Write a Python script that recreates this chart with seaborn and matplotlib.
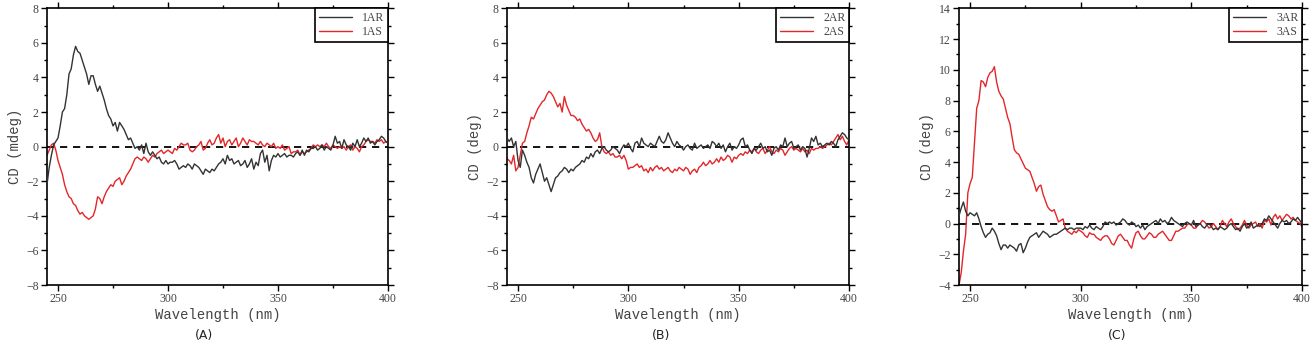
import numpy as np
import matplotlib
matplotlib.use("Agg")
import matplotlib.pyplot as plt
import seaborn as sns
from matplotlib.ticker import MultipleLocator

wavelength = list(range(245, 401))

cd_1AR = [
    -2.2, -1.2, -0.5, 0.1, 0.3, 0.5, 1.2, 2.0, 2.2, 3.0,
    4.2, 4.5, 5.3, 5.8, 5.5, 5.4, 5.0, 4.6, 4.2, 3.6,
    4.1, 4.1, 3.6, 3.2, 3.5, 3.1, 2.7, 2.2, 1.8, 1.6,
    1.2, 1.4, 0.9, 1.4, 1.2, 1.0, 0.7, 0.4, 0.5, 0.2,
    -0.1, 0.0, -0.2, 0.1, -0.4, 0.2, -0.3, -0.5, -0.3, -0.5,
    -0.7, -0.6, -0.9, -1.0, -0.8, -1.0, -0.9, -0.9, -0.8, -1.0,
    -1.3, -1.2, -1.1, -1.2, -1.0, -1.1, -1.3, -1.0, -1.1, -1.2,
    -1.4, -1.6, -1.3, -1.4, -1.5, -1.3, -1.4, -1.2, -1.0, -0.9,
    -0.7, -1.0, -0.5, -0.8, -0.7, -1.0, -0.9, -0.8, -1.1, -1.0,
    -0.8, -1.2, -1.0, -0.7, -1.3, -0.9, -1.1, -0.4, -0.2, -0.9,
    -0.5, -1.4, -0.8, -0.5, -0.6, -0.4, -0.6, -0.5, -0.4, -0.6,
    -0.5, -0.5, -0.6, -0.4, -0.3, -0.5, -0.2, -0.5, -0.2, -0.3,
    -0.1, -0.1, 0.0, -0.2, -0.1, 0.1, -0.2, 0.0, -0.1, -0.2,
    0.1, 0.6, 0.2, 0.3, -0.1, 0.4, 0.1, 0.0, -0.2, 0.2,
    0.0, 0.4, 0.0, 0.2, 0.5, 0.3, 0.5, 0.2, 0.3, 0.1,
    0.3, 0.4, 0.6, 0.5, 0.3, 0.2,
]
cd_1AS = [
    -0.5, -0.2, 0.1, 0.2, -0.2, -0.8, -1.2, -1.6, -2.2, -2.6,
    -2.9, -3.0, -3.3, -3.4, -3.7, -3.9, -3.8, -4.0, -4.1, -4.2,
    -4.1, -4.0, -3.6, -2.9, -3.0, -3.3, -2.9, -2.6, -2.4, -2.2,
    -2.3, -2.0, -1.9, -1.8, -2.2, -2.0, -1.7, -1.5, -1.3, -1.0,
    -0.7, -0.6, -0.7, -0.8, -0.6, -0.7, -0.9, -0.7, -0.5, -0.6,
    -0.4, -0.3, -0.2, -0.4, -0.3, -0.2, -0.3, -0.4, -0.1, -0.2,
    0.0, 0.2, 0.1, 0.1, 0.2, -0.2, -0.3, -0.2, 0.0, 0.1,
    0.3, -0.2, -0.1, 0.2, 0.4, 0.1, 0.2, 0.5, 0.7, 0.2,
    0.5, 0.0, 0.3, 0.4, 0.1, 0.3, 0.5, 0.0, 0.2, 0.5,
    0.3, 0.1, 0.4, 0.3, 0.3, 0.2, 0.1, 0.3, 0.1, 0.0,
    0.2, 0.1, 0.0, 0.2, -0.1, 0.0, -0.1, 0.1, -0.2, -0.1,
    0.0, -0.4, -0.3, -0.3, -0.2, -0.5, -0.3, -0.4, -0.3, -0.2,
    -0.1, 0.1, 0.0, 0.1, 0.0, 0.1, 0.0, 0.2, 0.0, -0.1,
    0.1, 0.0, -0.1, 0.0, -0.1, 0.0, -0.2, 0.0, 0.1, -0.2,
    0.0, -0.1, -0.3, 0.0, 0.1, 0.3, 0.4, 0.3, 0.3, 0.2,
    0.4, 0.3, 0.4, 0.2, 0.3, 0.2,
]
cd_2AR = [
    0.5, 0.3, 0.5, 0.0, 0.3, -0.8, -1.2, -0.2, -0.5, -0.9,
    -1.2, -1.8, -2.1, -1.6, -1.3, -1.0, -1.5, -2.0, -1.8, -2.2,
    -2.6, -2.2, -1.8, -1.7, -1.5, -1.4, -1.2, -1.3, -1.5, -1.3,
    -1.4, -1.2, -1.1, -1.0, -0.8, -0.9, -0.6, -0.7, -0.4, -0.6,
    -0.3, -0.2, -0.4, -0.1, 0.0, -0.2, -0.3, -0.2, 0.0, -0.1,
    -0.2, -0.4, -0.1, 0.1, 0.0, 0.2, -0.1, -0.3, 0.2, 0.3,
    0.0, 0.5, 0.2, 0.1, 0.0, 0.2, 0.1, 0.0, 0.3, 0.6,
    0.3, 0.2, 0.4, 0.8, 0.5, 0.2, 0.0, 0.3, 0.1, 0.0,
    -0.2, 0.0, 0.1, -0.1, -0.2, 0.2, -0.1, 0.0, 0.1, -0.1,
    0.0, 0.1, -0.1, 0.3, 0.2, 0.0, 0.2, -0.1, 0.1, -0.3,
    0.0, 0.2, -0.2, 0.0, -0.1, 0.1, 0.4, 0.5, 0.0, 0.1,
    -0.2, -0.4, -0.1, -0.2, 0.0, 0.2, -0.1, 0.0, -0.3, -0.2,
    -0.5, -0.1, 0.0, -0.2, 0.1, 0.0, 0.5, 0.0, 0.2, 0.3,
    -0.1, 0.0, 0.1, -0.2, 0.0, -0.1, -0.6, -0.1, 0.5, 0.3,
    0.6, 0.1, 0.2, 0.0, 0.1, 0.2, 0.1, 0.3, 0.2, 0.0,
    0.4, 0.6, 0.8, 0.7, 0.5, 0.4,
]
cd_2AS = [
    -0.7, -0.8, -1.0, -0.5, -1.4, -1.2, -0.5, 0.2, 0.3, 0.8,
    1.2, 1.7, 1.6, 1.9, 2.2, 2.4, 2.6, 2.7, 3.0, 3.2,
    3.1, 2.9, 2.6, 2.3, 2.5, 2.0, 2.9, 2.4, 2.1, 1.8,
    1.8, 1.7, 1.5, 1.6, 1.3, 1.1, 0.9, 1.0, 0.8, 0.5,
    0.3, 0.4, 0.8, 0.0, -0.3, -0.4, -0.3, -0.5, -0.4, -0.6,
    -0.6, -0.5, -0.7, -0.5, -0.8, -1.3, -1.2, -1.2, -1.1, -1.0,
    -1.2, -1.1, -1.4, -1.3, -1.5, -1.2, -1.4, -1.2, -1.1, -1.3,
    -1.2, -1.4, -1.3, -1.2, -1.4, -1.5, -1.3, -1.4, -1.2, -1.3,
    -1.4, -1.2, -1.3, -1.6, -1.4, -1.3, -1.5, -1.2, -1.1, -0.9,
    -1.1, -1.0, -0.8, -1.0, -0.9, -0.7, -0.9, -0.6, -0.8, -0.7,
    -0.5, -0.6, -0.9, -0.6, -0.7, -0.5, -0.4, -0.5, -0.3, -0.4,
    -0.2, -0.3, -0.1, -0.3, -0.4, -0.2, -0.1, -0.4, -0.2, 0.0,
    -0.3, -0.4, -0.2, -0.3, -0.1, -0.2, -0.5, -0.3, -0.1, 0.0,
    -0.2, -0.1, -0.2, -0.3, -0.1, -0.3, -0.2, -0.4, -0.1, -0.2,
    -0.1, -0.1, 0.0, -0.1, 0.0, 0.1, 0.2, 0.1, 0.3, 0.5,
    0.7, 0.4, 0.6, 0.3, 0.1, 0.4,
]
cd_3AR = [
    0.5, 1.0, 1.4, 0.8, 0.5, 0.7, 0.6, 0.5, 0.7, 0.3,
    -0.2, -0.6, -0.9, -0.7, -0.6, -0.3, -0.5, -0.8, -1.3, -1.7,
    -1.4, -1.4, -1.6, -1.4, -1.5, -1.6, -1.8, -1.4, -1.3, -1.9,
    -1.6, -1.2, -0.9, -0.8, -0.7, -0.6, -0.9, -0.7, -0.5, -0.6,
    -0.7, -0.9, -0.8, -0.7, -0.7, -0.6, -0.5, -0.4, -0.3, -0.4,
    -0.3, -0.3, -0.4, -0.3, -0.3, -0.3, -0.4, -0.2, -0.3, -0.1,
    -0.3, -0.4, -0.2, -0.3, -0.4, -0.2, 0.1, 0.0, 0.1, 0.0,
    0.1, -0.1, 0.0, 0.1, 0.3, 0.2, 0.0, -0.1, 0.1, 0.0,
    -0.2, -0.1, -0.3, -0.1, -0.4, -0.2, -0.1, 0.0, 0.1, 0.2,
    0.0, 0.3, 0.1, 0.2, 0.0, 0.1, 0.4, 0.2, 0.1, 0.0,
    -0.1, -0.2, 0.0, 0.1, 0.0, -0.1, 0.2, -0.2, -0.1, 0.0,
    -0.2, -0.3, -0.1, 0.0, -0.2, -0.4, -0.3, -0.4, -0.2, -0.3,
    -0.4, -0.3, -0.1, 0.0, -0.2, -0.4, -0.3, -0.5, -0.2, 0.0,
    -0.3, -0.2, 0.1, -0.3, -0.2, -0.1, -0.2, 0.0, 0.3, 0.2,
    0.5, 0.3, 0.1, -0.1, -0.3, 0.0, 0.2, 0.1, 0.2, 0.0,
    0.1, 0.3, 0.2, 0.4, 0.2, 0.0,
]
cd_3AS = [
    -4.0, -3.2, -1.8, -0.7, 2.0, 2.6, 3.0, 5.2, 7.5, 8.0,
    9.3, 9.2, 8.9, 9.5, 9.8, 9.9, 10.2, 9.2, 8.6, 8.3,
    8.1, 7.5, 6.9, 6.5, 5.6, 4.8, 4.6, 4.5, 4.2, 3.9,
    3.6, 3.5, 3.4, 3.0, 2.6, 2.1, 2.4, 2.5, 1.9, 1.5,
    1.1, 0.9, 0.8, 0.9, 0.5, 0.1, 0.2, 0.3, -0.3, -0.5,
    -0.6, -0.7, -0.5, -0.6, -0.4, -0.5, -0.6, -0.8, -0.9, -0.6,
    -0.7, -0.7, -0.9, -1.0, -1.1, -0.9, -0.8, -0.8, -1.0, -1.3,
    -1.4, -1.1, -0.8, -0.7, -0.9, -1.1, -1.1, -1.4, -1.6, -1.0,
    -0.6, -0.5, -0.8, -1.0, -1.0, -0.8, -0.6, -0.7, -0.9, -0.9,
    -0.7, -0.6, -0.5, -0.7, -0.9, -1.1, -1.1, -0.8, -0.5, -0.5,
    -0.4, -0.3, -0.3, -0.1, 0.0, -0.1, -0.3, -0.3, -0.1, 0.0,
    0.2, 0.1, -0.1, -0.3, -0.2, 0.0, -0.2, -0.4, -0.2, 0.2,
    0.0, -0.2, 0.1, 0.3, 0.0, -0.2, -0.4, -0.3, -0.1, 0.2,
    -0.1, -0.3, -0.1, 0.0, 0.1, -0.2, 0.0, -0.3, 0.2, 0.1,
    0.3, -0.1, 0.4, 0.6, 0.3, 0.5, 0.2, 0.4, 0.6, 0.5,
    0.3, 0.4, 0.2, 0.1, 0.0, -0.2,
]

panels = [
    ("1AR", "1AS", cd_1AR, cd_1AS, "CD (mdeg)", (-8, 8), "(A)"),
    ("2AR", "2AS", cd_2AR, cd_2AS, "CD (deg)", (-8, 8), "(B)"),
    ("3AR", "3AS", cd_3AR, cd_3AS, "CD (deg)", (-4, 14), "(C)"),
]
x_ticks = [250, 300, 350, 400]

sns.set_style("ticks")
plt.rcParams["font.family"] = ["Liberation Serif", "DejaVu Serif"]

BLACK = "#333333"
RED = "#e3262a"
TXT = "#444444"

fig = plt.figure(figsize=(13.14, 3.46), dpi=100)
lefts = [47 / 1314, 507 / 1314, 959 / 1314]
widths = [341 / 1314, 342 / 1314, 343 / 1314]
cap_x = [204 / 1314, 661 / 1314, 1117 / 1314]
bottom = 1 - 285 / 346
height = (285 - 8.3) / 346

for i, (nr, ns, yr, ys, ylab, ylim, cap) in enumerate(panels):
    ax = fig.add_axes([lefts[i], bottom, widths[i], height])
    ax.axhline(0, color="black", lw=1.3, ls=(0, (4, 3.2)), zorder=1)
    sns.lineplot(x=wavelength, y=yr, ax=ax, color=BLACK, lw=1.0, label=nr, zorder=3)
    sns.lineplot(x=wavelength, y=ys, ax=ax, color=RED, lw=1.0, label=ns, zorder=2)
    ax.set_xlim(245, 400)
    ax.set_ylim(*ylim)
    ax.set_xticks(x_ticks)
    ax.xaxis.set_minor_locator(MultipleLocator(25))
    ax.yaxis.set_major_locator(MultipleLocator(2))
    ax.yaxis.set_minor_locator(MultipleLocator(1))
    ax.tick_params(which="both", direction="out", top=True, right=True,
                   color="black", width=1.0, labelsize=8.5, labelcolor=TXT, pad=2)
    ax.tick_params(which="major", length=4)
    ax.tick_params(which="minor", length=2.5)
    for s in ax.spines.values():
        s.set_visible(True)
        s.set_linewidth(1.2)
        s.set_color("black")
    ax.set_xlabel("Wavelength (nm)", family=["Liberation Mono", "DejaVu Sans Mono"],
                  fontsize=10, color=TXT, labelpad=2)
    ax.set_ylabel(ylab, family=["Liberation Mono", "DejaVu Sans Mono"],
                  fontsize=10, color=TXT, labelpad=3)
    leg = ax.legend(loc="upper right", borderaxespad=0, frameon=True, fancybox=False,
                    edgecolor="black", fontsize=8.5, handlelength=2.8, handletextpad=0.9,
                    borderpad=0.3, labelspacing=0.2)
    leg.get_frame().set_linewidth(1.2)
    leg.get_frame().set_alpha(1)
    for t in leg.get_texts():
        t.set_color(TXT)
    fig.text(cap_x[i], 1 - 335 / 346, cap, ha="center", va="center",
             family=["DejaVu Sans"], fontsize=9, color="#222222")

fig.savefig("out.png", dpi=100)
